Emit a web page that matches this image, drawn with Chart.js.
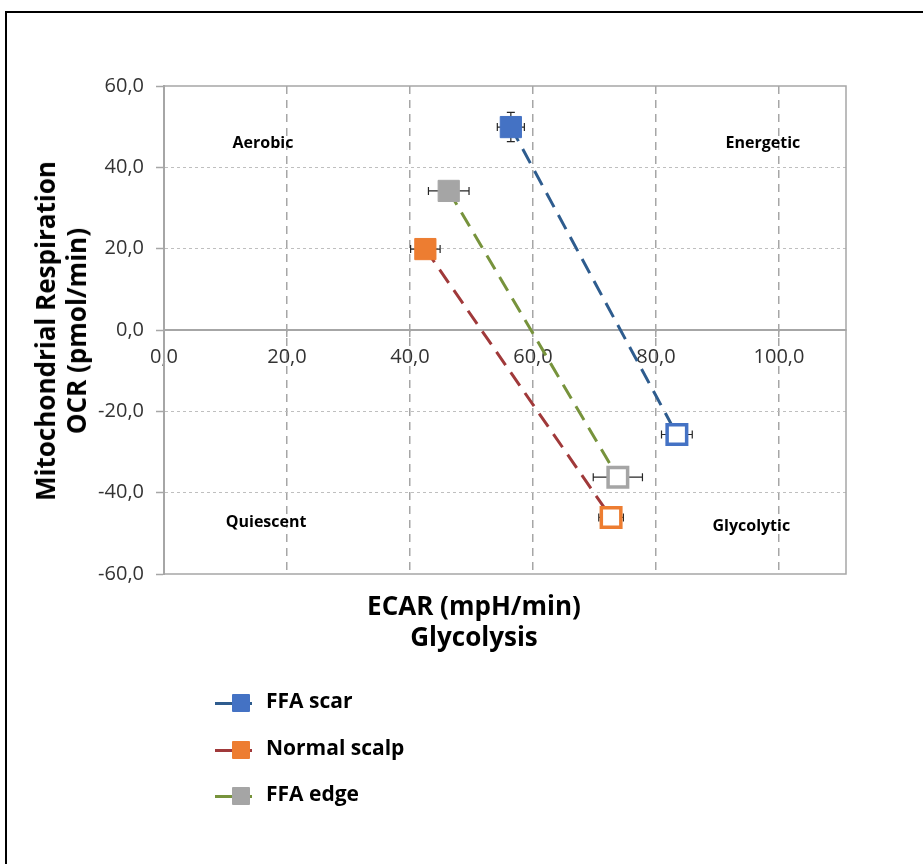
<!DOCTYPE html>
<html>
<head>
<meta charset="utf-8">
<script src="https://cdn.jsdelivr.net/npm/chart.js@4"></script>
<style>
  html, body { margin: 0; padding: 0; background: #fff; }
  #wrap { position: relative; width: 923px; height: 864px; overflow: hidden; background: #fff; }
  #frame { position: absolute; left: 5px; top: 11px; width: 1000px; height: 1000px;
           border-left: 2px solid #000; border-top: 2px solid #000; box-sizing: border-box; }
  canvas { position: absolute; left: 0; top: 0; }
  .title { position: absolute; font-family: "Open Sans", sans-serif; font-weight: 700;
           font-size: 26px; line-height: 31px; color: #000; text-align: center; white-space: nowrap; }
  #ytitle { left: 61px; top: 331px; transform: translate(-50%, -50%) rotate(-90deg); }
  #xtitle { left: 474px; top: 621px; transform: translate(-50%, -50%); }
  .lg-row { position: absolute; left: 215px; height: 30px; }
  .lg-line { position: absolute; left: 0; top: 14px; width: 37px; height: 3px; }
  .lg-mark { position: absolute; left: 17px; top: 6px; width: 18px; height: 18px; border-radius: 1px; }
  .lg-text { position: absolute; left: 51px; top: -3px; font-family: "Open Sans", sans-serif;
             font-weight: 700; font-size: 21px; line-height: 30px; color: #000; white-space: nowrap; }
</style>
</head>
<body>
<div id="wrap">
  <div id="frame"></div>
  <canvas id="c" width="923" height="864"></canvas>
  <div id="ytitle" class="title">Mitochondrial Respiration<br>OCR (pmol/min)</div>
  <div id="xtitle" class="title">ECAR (mpH/min)<br>Glycolysis</div>
  <div id="legend"></div>
</div>
<script>
// ---- data ----
const seriesNames = ['FFA scar', 'Normal scalp', 'FFA edge'];

const ffaScarX = [56.4, 83.4];
const ffaScarY = [49.9, -25.7];
const ffaScarXErr = [2.2, 2.5];
const ffaScarYErr = [3.6, 0];

const normalScalpX = [42.5, 72.7];
const normalScalpY = [19.9, -46.1];
const normalScalpXErr = [2.4, 2.0];
const normalScalpYErr = [0, 0];

const ffaEdgeX = [46.3, 73.8];
const ffaEdgeY = [34.2, -36.2];
const ffaEdgeXErr = [3.3, 4.0];
const ffaEdgeYErr = [0, 0];

const xTicks = [0, 20, 40, 60, 80, 100];
const yTicks = [-60, -40, -20, 0, 20, 40, 60];

const quadrantLabels = ['Aerobic', 'Energetic', 'Quiescent', 'Glycolytic'];
const quadrantAnchors = [[16.1, 45.9], [97.4, 45.8], [16.6, -47.4], [95.5, -48.2]];

// ---- styles ----
const markerColors = ['#4472C4', '#ED7D31', '#A5A5A5'];
const lineColors = ['#2E5C8E', '#A0393A', '#77933C'];

const seriesX = [ffaScarX, normalScalpX, ffaEdgeX];
const seriesY = [ffaScarY, normalScalpY, ffaEdgeY];
const seriesXErr = [ffaScarXErr, normalScalpXErr, ffaEdgeXErr];
const seriesYErr = [ffaScarYErr, normalScalpYErr, ffaEdgeYErr];

const fmt = v => Number(v).toFixed(1).replace('.', ',');

const datasets = seriesNames.map((name, i) => ({
  label: name,
  data: seriesX[i].map((x, j) => ({ x: x, y: seriesY[i][j], xErr: seriesXErr[i][j], yErr: seriesYErr[i][j] })),
  showLine: true,
  borderColor: lineColors[i],
  borderWidth: 3,
  borderDash: [16, 9],
  pointStyle: 'rect',
  pointRadius: [15, 13.8],
  pointBorderWidth: [1, 3.5],
  pointBackgroundColor: [markerColors[i], '#FFFFFF'],
  pointBorderColor: markerColors[i],
  clip: false
}));

const areaBorder = {
  id: 'areaBorder',
  beforeDatasetsDraw(chart) {
    const { ctx, chartArea: a } = chart;
    ctx.save();
    ctx.strokeStyle = '#A6A6A6';
    ctx.lineWidth = 1.5;
    ctx.strokeRect(a.left, a.top, a.right - a.left, a.bottom - a.top);
    ctx.lineWidth = 2;
    ctx.beginPath();
    ctx.moveTo(a.left, a.top); ctx.lineTo(a.left, a.bottom);
    ctx.stroke();
    ctx.restore();
  }
};

const errorBars = {
  id: 'errorBars',
  beforeDatasetsDraw(chart) {
    const { ctx, scales: { x: xs, y: ys } } = chart;
    ctx.save();
    ctx.strokeStyle = '#262626';
    ctx.lineWidth = 1.2;
    chart.data.datasets.forEach(ds => {
      ds.data.forEach(p => {
        const px = xs.getPixelForValue(p.x), py = ys.getPixelForValue(p.y);
        const cap = 4;
        if (p.xErr) {
          const x1 = xs.getPixelForValue(p.x - p.xErr), x2 = xs.getPixelForValue(p.x + p.xErr);
          ctx.beginPath();
          ctx.moveTo(x1, py); ctx.lineTo(x2, py);
          ctx.moveTo(x1, py - cap); ctx.lineTo(x1, py + cap);
          ctx.moveTo(x2, py - cap); ctx.lineTo(x2, py + cap);
          ctx.stroke();
        }
        if (p.yErr) {
          const y1 = ys.getPixelForValue(p.y - p.yErr), y2 = ys.getPixelForValue(p.y + p.yErr);
          ctx.beginPath();
          ctx.moveTo(px, y1); ctx.lineTo(px, y2);
          ctx.moveTo(px - cap, y1); ctx.lineTo(px + cap, y1);
          ctx.moveTo(px - cap, y2); ctx.lineTo(px + cap, y2);
          ctx.stroke();
        }
      });
    });
    ctx.restore();
  }
};

const quadText = {
  id: 'quadText',
  afterDatasetsDraw(chart) {
    const { ctx, scales: { x: xs, y: ys } } = chart;
    ctx.save();
    ctx.font = 'bold 16px "Open Sans", sans-serif';
    ctx.fillStyle = '#000';
    ctx.textAlign = 'center';
    ctx.textBaseline = 'middle';
    quadrantLabels.forEach((t, i) => {
      ctx.fillText(t, xs.getPixelForValue(quadrantAnchors[i][0]), ys.getPixelForValue(quadrantAnchors[i][1]));
    });
    ctx.restore();
  }
};

new Chart(document.getElementById('c'), {
  type: 'scatter',
  data: { datasets },
  plugins: [areaBorder, errorBars, quadText],
  options: {
    responsive: false,
    animation: false,
    events: [],
    devicePixelRatio: 1,
    layout: { padding: { top: 86, right: 77, bottom: 290, left: 0 } },
    plugins: { legend: { display: false }, tooltip: { enabled: false } },
    scales: {
      x: {
        type: 'linear',
        position: { y: 0 },
        min: 0, max: 110.9,
        afterBuildTicks: s => { s.ticks = xTicks.map(v => ({ value: v })); },
        afterFit: s => { s.height = 0; },
        ticks: {
          callback: v => fmt(v),
          font: { family: '"Open Sans", sans-serif', size: 20 },
          color: '#333',
          padding: 9,
          maxRotation: 0,
          autoSkip: false
        },
        grid: {
          color: c => (c.tick && c.tick.value === 0) ? 'rgba(0,0,0,0)' : '#A6A6A6',
          lineWidth: 1.5,
          tickLength: 6,
          tickColor: c => (c.tick && c.tick.value === 0) ? 'rgba(0,0,0,0)' : '#A6A6A6',
          tickWidth: 1.5
        },
        border: { display: true, color: '#A6A6A6', width: 2, dash: [8, 6] }
      },
      y: {
        type: 'linear',
        min: -60, max: 60,
        afterBuildTicks: s => { s.ticks = yTicks.map(v => ({ value: v })); },
        afterFit: s => { s.width = 164; },
        ticks: {
          callback: v => fmt(v),
          font: { family: '"Open Sans", sans-serif', size: 20 },
          color: '#333',
          padding: 12,
          autoSkip: false
        },
        grid: {
          color: c => (c.tick && Math.abs(c.tick.value) === 60) ? 'rgba(0,0,0,0)' : '#BFBFBF',
          lineWidth: 1,
          tickLength: 8, tickColor: '#A6A6A6', tickWidth: 1.5
        },
        border: { display: true, color: '#A6A6A6', width: 2, dash: [3, 3] }
      }
    }
  }
});

// ---- legend (HTML) ----
const legendTops = [688, 735, 781];
const lg = document.getElementById('legend');
seriesNames.forEach((name, i) => {
  const row = document.createElement('div');
  row.className = 'lg-row';
  row.style.top = legendTops[i] + 'px';
  const line = document.createElement('div');
  line.className = 'lg-line';
  line.style.background = lineColors[i];
  const mark = document.createElement('div');
  mark.className = 'lg-mark';
  mark.style.background = markerColors[i];
  const txt = document.createElement('div');
  txt.className = 'lg-text';
  txt.textContent = name;
  row.appendChild(line); row.appendChild(mark); row.appendChild(txt);
  lg.appendChild(row);
});
</script>
</body>
</html>
